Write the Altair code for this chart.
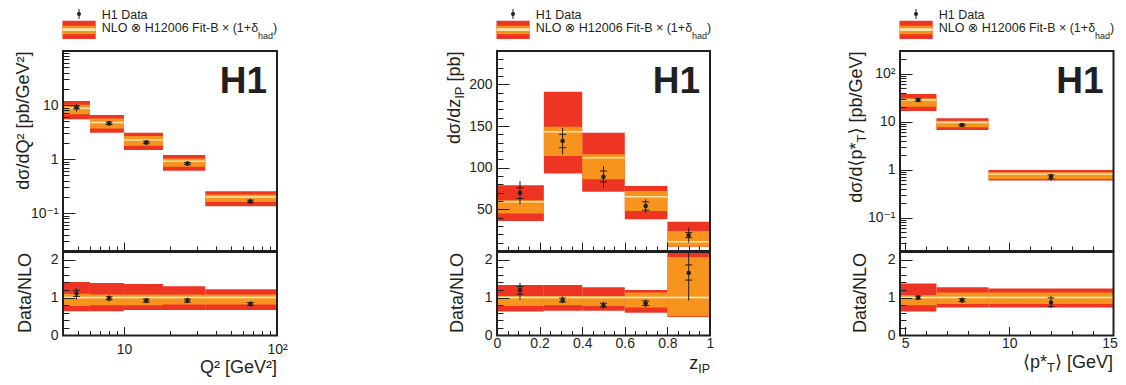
import altair as alt
import pandas as pd

# ---------------- data ----------------
# Panel 1 : d sigma / dQ^2
q2_lo = [4, 6, 10, 18, 34]
q2_hi = [6, 10, 18, 34, 100]
q2_x = [4.9, 8.0, 14, 26, 67]
q2_val = [9.1, 4.6, 2.04, 0.83, 0.165]
q2_tot_lo = [7.6, 4.1, 1.82, 0.75, 0.149]
q2_tot_hi = [10.4, 5.1, 2.25, 0.92, 0.186]
q2_stat_lo = [8.5, 4.35, 1.93, 0.79, 0.157]
q2_stat_hi = [9.7, 4.85, 2.15, 0.87, 0.174]
q2_nlo = [8.7, 4.78, 2.25, 0.918, 0.20]
q2_in_lo = [6.73, 3.7, 1.77, 0.72, 0.162]
q2_in_hi = [10.1, 5.67, 2.67, 1.03, 0.222]
q2_out_lo = [5.44, 3.07, 1.47, 0.607, 0.135]
q2_out_hi = [11.9, 6.53, 3.07, 1.19, 0.256]
q2_r_val = [1.11, 0.98, 0.92, 0.92, 0.83]
q2_r_tot_lo = [0.95, 0.90, 0.85, 0.85, 0.76]
q2_r_tot_hi = [1.25, 1.06, 0.99, 1.00, 0.90]
q2_r_stat_lo = [1.03, 0.94, 0.88, 0.88, 0.79]
q2_r_stat_hi = [1.19, 1.02, 0.96, 0.96, 0.87]
q2_r_mid = [1, 1, 1, 1, 1]
q2_r_in_lo = [0.78, 0.80, 0.80, 0.82, 0.82]
q2_r_in_hi = [1.10, 1.08, 1.08, 1.08, 1.08]
q2_r_out_lo = [0.64, 0.64, 0.67, 0.67, 0.67]
q2_r_out_hi = [1.41, 1.38, 1.36, 1.30, 1.22]

# Panel 2 : d sigma / dz_IP
z_lo = [0, 0.22, 0.4, 0.6, 0.8]
z_hi = [0.22, 0.4, 0.6, 0.8, 1.0]
z_x = [0.108, 0.308, 0.5, 0.698, 0.9]
z_val = [70, 132, 89, 54, 19]
z_tot_lo = [56, 116, 76, 46, 10]
z_tot_hi = [84, 148, 102, 62, 28]
z_stat_lo = [63, 124, 83, 49, 16]
z_stat_hi = [76, 140, 96, 59, 22]
z_nlo = [59, 143, 112, 65, 11]
z_in_lo = [45, 114, 86, 48, 5.3]
z_in_hi = [61, 149, 116, 72, 24]
z_out_lo = [36, 93, 71, 38, 5]
z_out_hi = [79, 191, 142, 78, 35]
z_r_val = [1.20, 0.93, 0.80, 0.85, 1.65]
z_r_tot_lo = [0.95, 0.85, 0.71, 0.74, 0.92]
z_r_tot_hi = [1.39, 1.03, 0.89, 0.95, 2.18]
z_r_stat_lo = [1.09, 0.88, 0.75, 0.79, 1.46]
z_r_stat_hi = [1.29, 0.99, 0.85, 0.91, 1.86]
z_r_mid = [1, 1, 1, 1, 1]
z_r_in_lo = [0.78, 0.80, 0.78, 0.74, 0.51]
z_r_in_hi = [1.04, 1.04, 1.04, 1.13, 2.07]
z_r_out_lo = [0.63, 0.65, 0.65, 0.60, 0.49]
z_r_out_hi = [1.33, 1.33, 1.27, 1.20, 2.18]

# Panel 3 : d sigma / d<pT*>
pt_lo = [4.75, 6.5, 9.0]
pt_hi = [6.5, 9.0, 15.0]
pt_x = [5.62, 7.73, 12.0]
pt_val = [28.4, 8.55, 0.71]
pt_tot_lo = [25.5, 7.8, 0.58]
pt_tot_hi = [31.5, 9.4, 0.82]
pt_stat_lo = [27.0, 8.2, 0.64]
pt_stat_hi = [30.0, 8.9, 0.78]
pt_nlo = [28.4, 9.7, 0.81]
pt_in_lo = [20.6, 7.66, 0.64]
pt_in_hi = [30.8, 10.5, 0.88]
pt_out_lo = [16.8, 6.73, 0.59]
pt_out_hi = [37.9, 11.8, 0.98]
pt_r_val = [1.0, 0.93, 0.87]
pt_r_tot_lo = [0.93, 0.85, 0.72]
pt_r_tot_hi = [1.07, 1.01, 1.05]
pt_r_stat_lo = [0.96, 0.89, 0.76]
pt_r_stat_hi = [1.04, 0.97, 0.99]
pt_r_mid = [1, 1, 1]
pt_r_in_lo = [0.80, 0.83, 0.83]
pt_r_in_hi = [1.07, 1.13, 1.13]
pt_r_out_lo = [0.63, 0.74, 0.74]
pt_r_out_hi = [1.37, 1.27, 1.24]

# axis domains and tick values
q2_xdom = [4, 100]
q2_ydom = [0.02, 100]
z_xdom = [0, 1]
z_ydom = [0, 240]
pt_xdom = [4.75, 15]
pt_ydom = [0.02, 300]
r_ydom = [0, 2.2]

log_major = [0.1, 1, 10, 100]
log_minor = [0.02, 0.03, 0.04, 0.05, 0.06, 0.07, 0.08, 0.09,
             0.2, 0.3, 0.4, 0.5, 0.6, 0.7, 0.8, 0.9,
             2, 3, 4, 5, 6, 7, 8, 9, 20, 30, 40, 50, 60, 70, 80, 90, 200]
q2_xmajor = [10]
q2_xminor = [5, 6, 7, 8, 9, 20, 30, 40, 50, 60, 70, 80, 90]
q2_xlabels = [10, 100]
z_xmajor = [0.2, 0.4, 0.6, 0.8]
z_xminor = [0.05, 0.1, 0.15, 0.25, 0.3, 0.35, 0.45, 0.5, 0.55, 0.65, 0.7, 0.75, 0.85, 0.9, 0.95]
z_xlabels = [0, 0.2, 0.4, 0.6, 0.8, 1]
z_ymajor = [50, 100, 150, 200]
z_yminor = [10, 20, 30, 40, 60, 70, 80, 90, 110, 120, 130, 140, 160, 170, 180, 190, 210, 220, 230]
pt_xmajor = [5, 10]
pt_xminor = [6, 7, 8, 9, 11, 12, 13, 14]
pt_xlabels = [5, 10, 15]
r_ymajor = [1, 2]
r_yminor = [0.2, 0.4, 0.6, 0.8, 1.2, 1.4, 1.6, 1.8]
r_ylabels = [0, 1, 2]

# ---------------- style / layout ----------------
FONT = "Liberation Sans, Arial, DejaVu Sans, sans-serif"
TXT = "#231f20"
RED = "#ee3524"
ORANGE = "#f7941e"
CREAM_UP = "#fce4ad"
CREAM_R = "#fff4e0"
W, H = 1110, 369
P_LEFT = [55, 489, 892]
P_RIGHT = [269, 702, 1105.5]
UP_TOP, UP_BOT = 43, 243
R_TOP, R_BOT = 244, 327.5

AW = {' ': 278, '[': 278, ']': 278, '/': 278, '(': 333, ')': 333, '*': 389, '+': 584,
      '-': 333, '.': 278, 'B': 667, 'D': 722, 'F': 611, 'G': 778, 'H': 722, 'I': 278,
      'L': 556, 'N': 722, 'O': 778, 'P': 667, 'Q': 778, 'T': 611, 'V': 667, 'a': 556,
      'b': 556, 'd': 556, 'e': 556, 'h': 556, 'i': 222, 'p': 556, 't': 278, 'z': 500,
      'σ': 600, 'δ': 556, '⊗': 838, '×': 584, '⟨': 390, '⟩': 390, '²': 333}


def tw(s, size):
    return sum(AW.get(c, 556) for c in s) * size / 1000.0


def sc(typ, dom, rng):
    return alt.Scale(type=typ, domain=dom, range=rng, nice=False, zero=False, clamp=True)


def lab_axis(orient, offset, values, pad, expr=None, fmt=None, last_shift=None):
    kw = dict(orient=orient, offset=offset, values=values, ticks=False, tickSize=0,
              domain=False, grid=False, labelPadding=pad, labelFont=FONT, labelFontSize=14,
              labelColor=TXT, labelOverlap=False, labelFlush=False, title=None)
    if expr is not None:
        kw['labelExpr'] = expr
    if fmt is not None:
        kw['format'] = fmt
    if last_shift is not None:
        kw['labelOffset'] = {'condition': {'test': 'datum.value == %s' % values[-1],
                                           'value': last_shift}, 'value': 0}
    return alt.Axis(**kw)


def tick_axis(orient, offset, values, size):
    return alt.Axis(orient=orient, offset=offset, values=values, ticks=True, tickSize=size,
                    tickColor=TXT, tickWidth=1, labels=False, domain=False, grid=False,
                    title=None, zindex=1)


def frame_df(xdom, ydom):
    return pd.DataFrame({'x0': [xdom[0]], 'x1': [xdom[1]], 'y0': [ydom[0]], 'y1': [ydom[1]]})


def panel(d, xs, ys, xdom, ydom, ax, mid_color):
    base = alt.Chart(d)
    red = base.mark_rect(color=RED).encode(
        x=alt.X('lo:Q', scale=xs, axis=ax['xmaj']), x2='hi',
        y=alt.Y('olo:Q', scale=ys, axis=ax['ylab']), y2='ohi')
    org = base.mark_rect(color=ORANGE).encode(
        x=alt.X('lo:Q', scale=xs, axis=ax['xmin']), x2='hi',
        y=alt.Y('ilo:Q', scale=ys, axis=ax['ymaj']), y2='ihi')
    mid = base.mark_rule(color=mid_color, strokeWidth=1.5).encode(
        x=alt.X('lo:Q', scale=xs, axis=None), x2='hi',
        y=alt.Y('nlo:Q', scale=ys, axis=ax['ymin']))
    err = base.mark_rule(color=TXT, strokeWidth=1).encode(
        x=alt.X('x:Q', scale=xs, axis=None),
        y=alt.Y('tlo:Q', scale=ys, axis=None), y2='thi')
    slo = base.mark_tick(orient='horizontal', size=7, thickness=1, color=TXT, opacity=1).encode(
        x=alt.X('x:Q', scale=xs, axis=None), y=alt.Y('slo:Q', scale=ys, axis=None))
    shi = base.mark_tick(orient='horizontal', size=7, thickness=1, color=TXT, opacity=1).encode(
        x=alt.X('x:Q', scale=xs, axis=None), y=alt.Y('shi:Q', scale=ys, axis=None))
    pts = base.mark_circle(size=20, color=TXT, opacity=1).encode(
        x=alt.X('x:Q', scale=xs, axis=ax['xlab']), y=alt.Y('val:Q', scale=ys, axis=None))
    frm = alt.Chart(frame_df(xdom, ydom)).mark_rect(
        fillOpacity=0, stroke=TXT, strokeWidth=2).encode(
        x=alt.X('x0:Q', scale=xs, axis=None), x2='x1',
        y=alt.Y('y0:Q', scale=ys, axis=None), y2='y1')
    return alt.layer(red, org, mid, err, slo, shi, pts, frm).resolve_axis(
        x='independent', y='independent')


def df(lo, hi, x, val, tlo, thi, slo, shi, nlo, ilo, ihi, olo, ohi):
    return pd.DataFrame(dict(lo=lo, hi=hi, x=x, val=val, tlo=tlo, thi=thi, slo=slo, shi=shi,
                             nlo=nlo, ilo=ilo, ihi=ihi, olo=olo, ohi=ohi))


panels = []
specs = [
    dict(kind='log', xdom=q2_xdom, ydom=q2_ydom, lo=q2_lo, hi=q2_hi, x=q2_x,
         up=(q2_val, q2_tot_lo, q2_tot_hi, q2_stat_lo, q2_stat_hi, q2_nlo, q2_in_lo, q2_in_hi, q2_out_lo, q2_out_hi),
         r=(q2_r_val, q2_r_tot_lo, q2_r_tot_hi, q2_r_stat_lo, q2_r_stat_hi, q2_r_mid, q2_r_in_lo, q2_r_in_hi, q2_r_out_lo, q2_r_out_hi),
         ytype='log', ymaj=[0.1, 1, 10], ymin=log_minor, ylab=[0.1, 1, 10],
         yexpr="datum.value < 0.5 ? '10⁻¹' : (datum.value < 5 ? '1' : '10')",
         xmaj=q2_xmajor, xmin=q2_xminor, xlab=q2_xlabels,
         xexpr="datum.value > 50 ? '10²' : '10'", xfmt=None, xpad=7, shift=None),
    dict(kind='linear', xdom=z_xdom, ydom=z_ydom, lo=z_lo, hi=z_hi, x=z_x,
         up=(z_val, z_tot_lo, z_tot_hi, z_stat_lo, z_stat_hi, z_nlo, z_in_lo, z_in_hi, z_out_lo, z_out_hi),
         r=(z_r_val, z_r_tot_lo, z_r_tot_hi, z_r_stat_lo, z_r_stat_hi, z_r_mid, z_r_in_lo, z_r_in_hi, z_r_out_lo, z_r_out_hi),
         ytype='linear', ymaj=z_ymajor, ymin=z_yminor, ylab=z_ymajor, yexpr=None,
         xmaj=z_xmajor, xmin=z_xminor, xlab=z_xlabels, xexpr=None, xfmt='~g', xpad=1, shift=None),
    dict(kind='linear', xdom=pt_xdom, ydom=pt_ydom, lo=pt_lo, hi=pt_hi, x=pt_x,
         up=(pt_val, pt_tot_lo, pt_tot_hi, pt_stat_lo, pt_stat_hi, pt_nlo, pt_in_lo, pt_in_hi, pt_out_lo, pt_out_hi),
         r=(pt_r_val, pt_r_tot_lo, pt_r_tot_hi, pt_r_stat_lo, pt_r_stat_hi, pt_r_mid, pt_r_in_lo, pt_r_in_hi, pt_r_out_lo, pt_r_out_hi),
         ytype='log', ymaj=log_major, ymin=log_minor + [300], ylab=log_major,
         yexpr="datum.value < 0.5 ? '10⁻¹' : (datum.value < 5 ? '1' : (datum.value < 50 ? '10' : '10²'))",
         xmaj=pt_xmajor, xmin=pt_xminor, xlab=pt_xlabels, xexpr=None, xfmt='~g', xpad=1, shift=-4),
]

for i, s in enumerate(specs):
    L, R = P_LEFT[i], P_RIGHT[i]
    # upper
    xs_u = sc(s['kind'], s['xdom'], [L, R])
    ys_u = sc(s['ytype'], s['ydom'], [UP_BOT, UP_TOP])
    ax_u = dict(
        ylab=lab_axis('left', -L, s['ylab'], 5, expr=s['yexpr']),
        ymaj=tick_axis('right', -(W - L), s['ymaj'], 12),
        ymin=tick_axis('right', -(W - L), s['ymin'], 6),
        xmaj=tick_axis('top', -UP_BOT, s['xmaj'], 9),
        xmin=tick_axis('top', -UP_BOT, s['xmin'], 5),
        xlab=None)
    d_u = df(s['lo'], s['hi'], s['x'], *s['up'])
    panels.append(panel(d_u, xs_u, ys_u, s['xdom'], s['ydom'], ax_u, CREAM_UP))
    # ratio
    xs_r = sc(s['kind'], s['xdom'], [L, R])
    ys_r = sc('linear', r_ydom, [R_BOT, R_TOP])
    ax_r = dict(
        ylab=lab_axis('left', -L, r_ylabels, 5),
        ymaj=tick_axis('right', -(W - L), r_ymajor, 12),
        ymin=tick_axis('right', -(W - L), r_yminor, 6),
        xmaj=tick_axis('top', -R_BOT, s['xmaj'], 9),
        xmin=tick_axis('top', -R_BOT, s['xmin'], 5),
        xlab=lab_axis('bottom', -(H - R_BOT), s['xlab'], s['xpad'], expr=s['xexpr'],
                      fmt=s['xfmt'], last_shift=s['shift']))
    d_r = df(s['lo'], s['hi'], s['x'], *s['r'])
    panels.append(panel(d_r, xs_r, ys_r, s['xdom'], r_ydom, ax_r, CREAM_R))

# ---------------- annotations ----------------
ONE = pd.DataFrame({'a': [1]})


def txt(s, x, y, size=18, align='left', baseline='alphabetic', angle=0, weight='normal'):
    return alt.Chart(ONE).mark_text(
        text=s, font=FONT, fontSize=size, align=align, baseline=baseline, angle=angle,
        fontWeight=weight, color=TXT).encode(x=alt.value(x), y=alt.value(y))


def box(x0, x1, y0, y1, color):
    return alt.Chart(ONE).mark_rect(color=color).encode(
        x=alt.value(x0), x2=alt.value(x1), y=alt.value(y0), y2=alt.value(y1))


ann = []
LEG_MAIN = "NLO ⊗ H12006 Fit-B × (1+δ"
for i in range(3):
    L, R = P_LEFT[i], P_RIGHT[i]
    xm = L + 16
    ann.append(alt.Chart(ONE).mark_rule(color=TXT, strokeWidth=1).encode(
        x=alt.value(xm), y=alt.value(1), y2=alt.value(11)))
    ann.append(alt.Chart(ONE).mark_circle(size=16, color=TXT, opacity=1).encode(
        x=alt.value(xm), y=alt.value(6)))
    ann.append(txt("H1 Data", L + 38.7, 10.5, size=12.5))
    ann.append(box(L - 0.5, L + 32.7, 12.7, 31, RED))
    ann.append(box(L - 0.5, L + 32.7, 17.7, 26.3, ORANGE))
    ann.append(box(L - 0.5, L + 32.7, 20.3, 23, CREAM_UP))
    x1 = L + 38.7
    ann.append(txt(LEG_MAIN, x1, 19.5, size=12.5, baseline='middle'))
    x2 = x1 + tw(LEG_MAIN, 12.5)
    ann.append(txt("had", x2, 27.5, size=9, baseline='middle'))
    x3 = x2 + tw("had", 9)
    ann.append(txt(")", x3, 19.5, size=12.5, baseline='middle'))
    ann.append(txt("H1", R - 10, 84.5, size=37, align='right', weight='bold'))

# y titles (rotated)
TOPY = 43.5
ann.append(txt("dσ/dQ² [pb/GeV²]", 20.5, TOPY, align='right', angle=270))
ann.append(txt("Data/NLO", 22.5, 245, align='right', angle=270))

y_a = TOPY
ann.append(txt(" [pb]", 452, y_a, align='right', angle=270))
y_b = y_a + tw(" [pb]", 18)
ann.append(txt("IP", 456, y_b, size=13, align='right', angle=270))
y_c = y_b + tw("IP", 13)
ann.append(txt("dσ/dz", 452, y_c, align='right', angle=270))
ann.append(txt("Data/NLO", 455, 245, align='right', angle=270))

y_a = TOPY
ann.append(txt("⟩ [pb/GeV]", 854, y_a, align='right', angle=270))
y_b = y_a + tw("⟩ [pb/GeV]", 18)
ann.append(txt("T", 858, y_b, size=13, align='right', angle=270))
y_c = y_b + tw("T", 13)
ann.append(txt("dσ/d⟨p*", 854, y_c, align='right', angle=270))
ann.append(txt("Data/NLO", 858, 245, align='right', angle=270))

# x titles
ann.append(txt("Q² [GeV²]", 269, 365, align='right'))
ann.append(txt("IP", 702, 365, size=12.5, align='right'))
ann.append(txt("z", 702 - tw("IP", 12.5), 360.5, align='right'))
xr = 1105
ann.append(txt("⟩ [GeV]", xr, 360.3, align='right'))
xr2 = xr - tw("⟩ [GeV]", 18)
ann.append(txt("T", xr2, 364.3, size=13, align='right'))
xr3 = xr2 - tw("T", 13)
ann.append(txt("⟨p*", xr3, 360.3, align='right'))

chart = alt.layer(*panels, *ann).resolve_scale(
    x='independent', y='independent').resolve_axis(
    x='independent', y='independent').properties(
    width=W, height=H, padding=0, background='white',
    autosize=alt.AutoSizeParams(type='none')).configure_view(strokeWidth=0)

chart.save("out.html", embed_options={"renderer": "svg", "actions": False})
